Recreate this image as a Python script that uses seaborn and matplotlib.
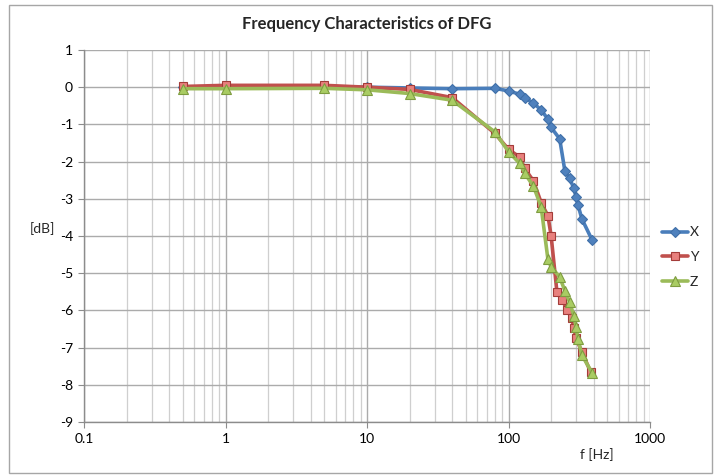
import matplotlib
matplotlib.use("Agg")
import matplotlib.pyplot as plt
import matplotlib.ticker as mticker
from matplotlib.patches import Rectangle
import seaborn as sns
import pandas as pd

freq_x = [0.5, 1, 5, 10, 20, 40, 80, 100, 120, 130, 150, 170, 190, 200, 230, 250, 270, 290, 300, 310, 330, 390]
db_x = [0.0, 0.0, 0.0, 0.0, -0.02, -0.04, -0.03, -0.1, -0.19, -0.28, -0.43, -0.61, -0.86, -1.08, -1.39,
        -2.24, -2.45, -2.72, -2.94, -3.17, -3.54, -4.11]
freq_y = [0.5, 1, 5, 10, 20, 40, 80, 100, 120, 130, 150, 170, 190, 200, 220, 240, 260, 280, 290, 300, 330, 380]
db_y = [0.02, 0.05, 0.05, 0.0, -0.06, -0.28, -1.24, -1.67, -1.88, -2.18, -2.52, -3.1, -3.46, -3.99,
        -5.51, -5.72, -5.99, -6.21, -6.48, -6.75, -7.11, -7.65]
freq_z = [0.5, 1, 5, 10, 20, 40, 80, 100, 120, 130, 150, 170, 190, 200, 230, 250, 270, 290, 300, 310, 330, 390]
db_z = [-0.04, -0.04, -0.03, -0.07, -0.17, -0.35, -1.2, -1.73, -2.05, -2.31, -2.66, -3.21, -4.63, -4.83,
        -5.1, -5.47, -5.77, -6.15, -6.44, -6.78, -7.2, -7.68]
series_names = ["X", "Y", "Z"]
y_ticks = list(range(-9, 2))
x_ticks = [0.1, 1, 10, 100, 1000]
x_tick_labels = ["0.1", "1", "10", "100", "1000"]

df = pd.concat([
    pd.DataFrame({"f": freq_x, "dB": db_x, "axis": "X"}),
    pd.DataFrame({"f": freq_y, "dB": db_y, "axis": "Y"}),
    pd.DataFrame({"f": freq_z, "dB": db_z, "axis": "Z"}),
], ignore_index=True)

sns.set_style("white")
plt.rcParams["font.family"] = ["Lato", "DejaVu Sans"]

fig = plt.figure(figsize=(7.2, 4.75), dpi=100)
ax = fig.add_axes([84 / 720, 1 - 422 / 475, (650 - 84) / 720, (422 - 50) / 475])

colors = {"X": "#4A7EBB", "Y": "#C0504D", "Z": "#9BBB59"}
faces = {"X": "#4F81BD", "Y": "#E8807D", "Z": "#A9CC63"}
edges = {"X": "#3F6FA8", "Y": "#A33C39", "Z": "#7E9C40"}
markers = {"X": "D", "Y": "s", "Z": "^"}
msize = {"X": 5, "Y": 6.2, "Z": 6.8}

for name in series_names:
    sub = df[df["axis"] == name]
    sns.lineplot(data=sub, x="f", y="dB", ax=ax, color=colors[name], linewidth=2.6,
                 marker=markers[name], markersize=msize[name], markerfacecolor=faces[name],
                 markeredgecolor=edges[name], markeredgewidth=0.8, label=name, sort=False,
                 estimator=None, zorder=3)

ax.set_xscale("log")
ax.set_xlim(0.1, 1000)
ax.set_ylim(-9, 1)
ax.set_yticks(y_ticks)
ax.set_yticklabels([str(v) for v in y_ticks])
ax.set_xticks(x_ticks)
ax.set_xticklabels(x_tick_labels)
ax.xaxis.set_minor_locator(mticker.LogLocator(base=10, subs=range(2, 10), numticks=20))
ax.xaxis.set_minor_formatter(mticker.NullFormatter())

ax.grid(True, which="major", axis="both", color="#ababab", linewidth=1.0)
ax.grid(True, which="minor", axis="x", color="#cfcfcf", linewidth=0.9)
ax.set_axisbelow(True)

for s in ["top", "right"]:
    ax.spines[s].set_visible(False)
for s in ["left", "bottom"]:
    ax.spines[s].set_color("#8c8c8c")
    ax.spines[s].set_linewidth(1.0)

ax.tick_params(axis="both", which="major", direction="out", length=4, width=0.8,
               color="#8c8c8c", labelsize=10, labelcolor="#000000", pad=4, left=True, bottom=True)
ax.tick_params(axis="x", which="minor", length=0)

ax.set_xlabel("")
ax.set_ylabel("")
fig.text(30 / 720, 1 - 229 / 475, "[dB]", fontsize=10, ha="left", va="center")
fig.text(597 / 720, 1 - 455 / 475, "f [Hz]", fontsize=10, ha="center", va="center")
fig.text(367 / 720, 1 - 24 / 475, "Frequency Characteristics of DFG", fontsize=12,
         fontweight="bold", ha="center", va="center")

leg = ax.legend(loc="center left", bbox_to_anchor=(655 / 720, 1 - 257 / 475),
                bbox_transform=fig.transFigure, frameon=False, fontsize=10,
                handlelength=1.9, handletextpad=0.1, labelspacing=0.9, borderpad=0)

fig.patches.append(Rectangle((9 / 720, 2 / 475), 703 / 720, 468 / 475, transform=fig.transFigure,
                             fill=False, edgecolor="#a6a6a6", linewidth=1.0))

fig.savefig("out.png", dpi=100)
